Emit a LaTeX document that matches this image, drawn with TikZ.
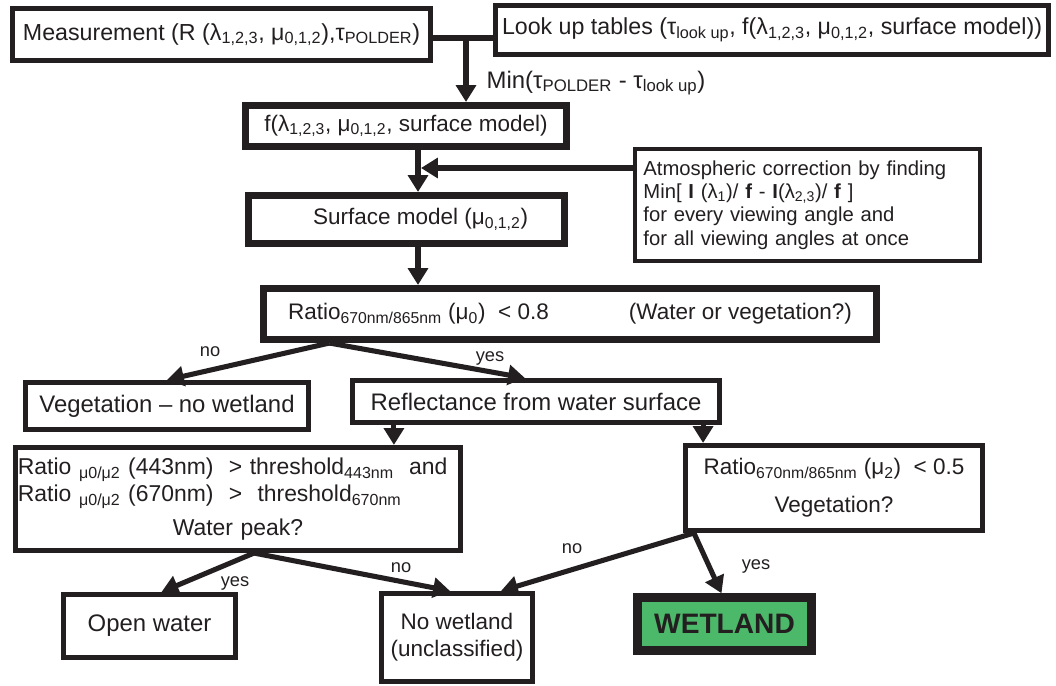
\documentclass[tikz,border=0pt]{standalone}
\usepackage{fontspec}
\setmainfont{Liberation Sans}
\usepackage{tikz}
\usetikzlibrary{arrows.meta,calc}
\definecolor{inkdark}{HTML}{231F20}
\definecolor{wetgreen}{HTML}{4CB86A}
\tikzset{
  box/.style={
    draw=inkdark,
    line width=3.6pt,
    fill=white,
    align=center,
    inner sep=2pt,
    text=inkdark,
    font=\fontsize{16}{19}\selectfont
  },
  bigbox/.style={
    box,
    font=\fontsize{17}{20}\selectfont
  },
  heavybox/.style={
    box,
    line width=5pt
  },
  notebox/.style={
    box,
    line width=2.8pt,
    align=left,
    text width=8.2cm,
    inner xsep=0.2cm,
    font=\fontsize{14.4}{16.6}\selectfont
  },
  resultbox/.style={
    box,
    line width=6pt,
    fill=wetgreen,
    font=\fontsize{20}{24}\selectfont\bfseries
  },
  flow/.style={
    -{Triangle[length=12pt,width=14pt]},
    line width=3.6pt,
    draw=inkdark
  },
  joint/.style={
    line width=3.6pt,
    draw=inkdark
  },
  lbl/.style={
    text=inkdark,
    inner sep=1pt,
    font=\fontsize{13}{15}\selectfont
  }
}

\begin{document}
\begin{tikzpicture}[x=0.025cm, y=-0.025cm]
  \useasboundingbox (0,0) rectangle (1056,685);

  % input and tables
  \node[box, font=\fontsize{16.5}{19}\selectfont, minimum width=10.45cm, minimum height=1.3cm] (meas) at (221.5,34.5)
    {Measurement (R (λ\textsubscript{1,2,3}, μ\textsubscript{0,1,2}),τ\textsubscript{POLDER})};
  \node[box, font=\fontsize{16.5}{19}\selectfont, minimum width=13.8cm, minimum height=1.225cm] (lut) at (772,30)
    {Look up tables (τ\textsubscript{look up}, f(λ\textsubscript{1,2,3}, μ\textsubscript{0,1,2}, surface model))};
  \node[heavybox, minimum width=8cm, minimum height=1.025cm] (fbox) at (406,126)
    {f(λ\textsubscript{1,2,3}, μ\textsubscript{0,1,2}, surface model)};
  \node[notebox, minimum height=2.8cm] (atm) at (807.5,205)
    {Atmospheric correction by finding\\
     Min[ \textbf{I} (λ\textsubscript{1})/ \textbf{f} - \textbf{I}(λ\textsubscript{2,3})/ \textbf{f} ]\\
     for every viewing angle and\\
     for all viewing angles at once};
  \node[heavybox, minimum width=7.9cm, minimum height=1.2cm] (surf) at (406.5,219.5)
    {\hspace*{20pt}Surface model (μ\textsubscript{0,1,2})};

  % first test
  \node[heavybox, minimum width=15.3cm, minimum height=1.275cm] (ratio) at (570,314)
    {Ratio\textsubscript{670nm/865nm} (μ\textsubscript{0})\ \ < 0.8\hspace{57pt}(Water or vegetation?)};
  \node[bigbox, minimum width=7.075cm, minimum height=1.175cm] (veg) at (167,406)
    {Vegetation – no wetland};
  \node[bigbox, minimum width=9.175cm, minimum height=1.05cm] (refl) at (536,401.5)
    {Reflectance from water surface};

  % second tests
  \node[box, font=\fontsize{16.3}{19}\selectfont, align=left, text width=11cm, inner xsep=0.06cm, minimum height=2.575cm] (water) at (238,499)
    {Ratio \textsubscript{μ0/μ2} (443nm)\ \ > threshold\textsubscript{443nm}\ \ and\\
     Ratio \textsubscript{μ0/μ2} (670nm)\ \ >\ \ threshold\textsubscript{670nm}\\[5pt]
     \makebox[\linewidth][c]{Water peak?}};
  \node[box, minimum width=7.425cm, minimum height=2.125cm] (vegq) at (834,488)
    {Ratio\textsubscript{670nm/865nm} (μ\textsubscript{2})\ \ < 0.5\\[8pt]
     Vegetation?};

  % classes
  \node[bigbox, minimum width=4.3cm, minimum height=1.575cm] (open) at (149.5,626) {Open water};
  \node[box, minimum width=3.775cm, minimum height=2.2cm] (nowet) at (457,637.5) {No wetland\\(unclassified)};
  \node[resultbox, minimum width=4.35cm, minimum height=1.325cm] (wet) at (724.5,624) {WETLAND};

  % connectors
  \coordinate (split) at (466,38);
  \coordinate (trunk) at (418,168);
  \draw[joint] (meas.east |- split) -- (lut.west |- split);
  \draw[flow] (split) -- (split |- fbox.north);
  \node[lbl, anchor=west, font=\fontsize{17}{20}\selectfont] (minlbl) at (485,83)
    {Min(τ\textsubscript{POLDER} - τ\textsubscript{look up})};

  \draw[flow] (fbox.south -| trunk) -- (surf.north -| trunk);
  \draw[flow] (atm.west |- trunk) -- ($(trunk)+(3,0)$);
  \draw[flow] (surf.south -| trunk) -- (ratio.north -| trunk);

  \draw[flow] ($(ratio.south west)+(69,0)$) coordinate (fork) -- (veg.north);
  \draw[flow] (fork) -- ($(refl.north west)+(175,0)$);
  \node[lbl] (noveg) at (210,352) {no};
  \node[lbl] (yesrefl) at (490,358) {yes};

  \draw[flow] ($(refl.south west)+(44,0)$) coordinate (dropA) -- (dropA |- water.north);
  \draw[flow] ($(refl.south east)+(-19,0)$) coordinate (dropB) -- (dropB |- vegq.north);

  \draw[flow] ($(water.south)+(16,0)$) coordinate (forkA) -- ($(open.north)+(12,0)$);
  \draw[flow] (forkA) -- ($(nowet.north)+(-7,0)$);
  \draw[flow] ($(vegq.south west)+(11,0)$) coordinate (forkB) -- ($(nowet.north)+(44,0)$);
  \draw[flow] (forkB) -- ($(wet.north)+(-3,0)$);
  \node[lbl] (yesopen) at (235,583) {yes};
  \node[lbl] (nowater) at (401,568) {no};
  \node[lbl] (novegq) at (572,549) {no};
  \node[lbl] (yeswet) at (756,566) {yes};
\end{tikzpicture}
\end{document}
